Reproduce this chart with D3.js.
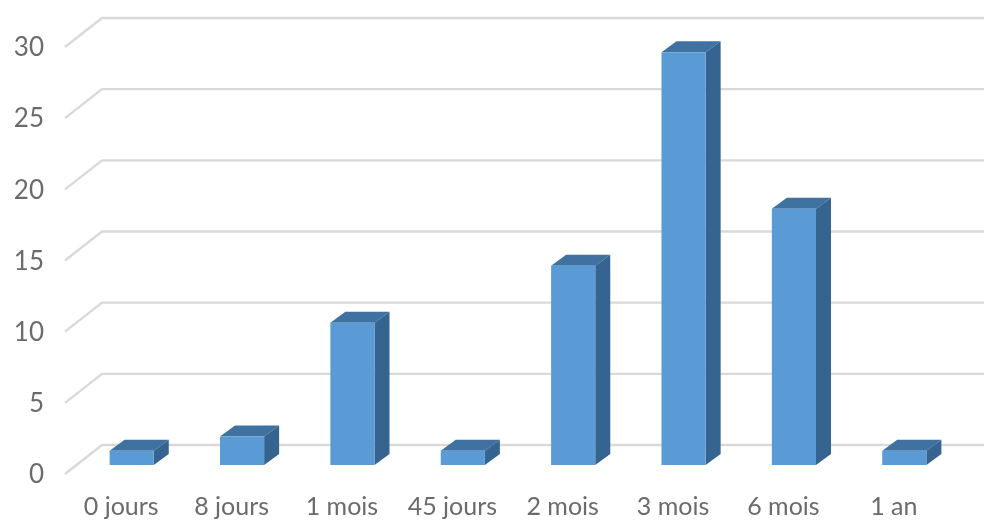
<!DOCTYPE html>
<html>
<head>
<meta charset="utf-8">
<script src="https://cdn.jsdelivr.net/npm/d3@7"></script>
<style>
  html, body { margin: 0; padding: 0; background: #fff; }
  svg { display: block; filter: blur(0.6px); }
</style>
</head>
<body>
<div id="chart"></div>
<script>
// data
const categories = ["0 jours", "8 jours", "1 mois", "45 jours", "2 mois", "3 mois", "6 mois", "1 an"];
const values = [1, 2, 10, 1, 14, 29, 18, 1];
const yTicks = [0, 5, 10, 15, 20, 25, 30];

const width = 984;
const height = 523;

// front wall of the fake 3d box
const frontLeft = 65;
const frontRight = 948;
const frontBottom = 474;
const frontTop = 47;

// depth of the floor, and where the bars sit on it
const depthX = 37;
const depthY = -29;
const barShiftX = 11.5;
const barShiftY = -9;
const barDepthX = 15;
const barDepthY = -11;

const x = d3.scaleBand()
  .domain(categories)
  .range([frontLeft, frontRight])
  .paddingInner(0.6)
  .paddingOuter(0.3);

const y = d3.scaleLinear()
  .domain([0, 30])
  .range([frontBottom, frontTop]);

const svg = d3.select("#chart")
  .append("svg")
  .attr("width", width)
  .attr("height", height)
  .attr("font-family", "Lato, sans-serif");

// gridlines: diagonal on the side wall, then flat on the back wall
svg.append("g")
  .selectAll("path")
  .data(yTicks)
  .join("path")
  .attr("fill", "none")
  .attr("stroke", "#d9d9d9")
  .attr("stroke-width", 2.4)
  .attr("d", (d) => {
    const p = d3.path();
    p.moveTo(frontLeft, y(d));
    p.lineTo(frontLeft + depthX, y(d) + depthY);
    p.lineTo(width, y(d) + depthY);
    return p.toString();
  });

// y axis labels
const yAxis = svg.append("g")
  .attr("transform", `translate(${frontLeft - 21},0.5)`)
  .call(d3.axisLeft(y).tickValues(yTicks).tickSize(0).tickPadding(0));
yAxis.select(".domain").remove();
yAxis.selectAll("text")
  .attr("font-family", "Lato, sans-serif")
  .attr("font-size", 26)
  .attr("fill", "#6b6b6b");

// x axis labels
const xAxis = svg.append("g")
  .attr("transform", `translate(1,${frontBottom + 23.5})`)
  .call(d3.axisBottom(x).tickSize(0).tickPadding(0));
xAxis.select(".domain").remove();
xAxis.selectAll("text")
  .attr("font-family", "Lato, sans-serif")
  .attr("font-size", 25)
  .attr("fill", "#6b6b6b");

// bars
const bars = svg.append("g")
  .attr("transform", `translate(${barShiftX},${barShiftY})`)
  .selectAll("g")
  .data(values)
  .join("g");

const barX = (i) => x(categories[i]);

// top face
bars.append("path")
  .attr("fill", "#3f72a1")
  .attr("d", (d, i) => {
    const x0 = barX(i), x1 = x0 + x.bandwidth(), t = y(d);
    return `M${x0},${t}L${x0 + barDepthX},${t + barDepthY}L${x1 + barDepthX},${t + barDepthY}L${x1},${t}Z`;
  });

// side face
bars.append("path")
  .attr("fill", "#34648f")
  .attr("d", (d, i) => {
    const x1 = barX(i) + x.bandwidth(), t = y(d), b = y(0);
    return `M${x1},${t}L${x1 + barDepthX},${t + barDepthY}L${x1 + barDepthX},${b + barDepthY}L${x1},${b}Z`;
  });

// front face
bars.append("rect")
  .attr("fill", "#5b9bd5")
  .attr("x", (d, i) => barX(i))
  .attr("y", (d) => y(d))
  .attr("width", x.bandwidth())
  .attr("height", (d) => y(0) - y(d));
</script>
</body>
</html>
